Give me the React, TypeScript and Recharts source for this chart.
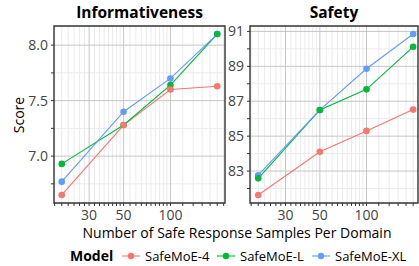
import React from "react";
import {
  LineChart, Line, XAxis, YAxis, CartesianGrid, ReferenceArea,
} from "recharts";

// samples per domain (x, log scale)
const sampleSizes = [20, 50, 100, 200];

const infoSafeMoE4 = [6.65, 7.28, 7.6, 7.63];
const infoSafeMoEL = [6.93, 7.28, 7.64, 8.1];
const infoSafeMoEXL = [6.77, 7.4, 7.7, 8.1];

const safetySafeMoE4 = [81.63, 84.1, 85.3, 86.52];
const safetySafeMoEL = [82.58, 86.5, 87.68, 90.12];
const safetySafeMoEXL = [82.76, 86.5, 88.86, 90.85];

const xMajor = [30, 50, 100];
const xMinor = [18, 20, 22, 24, 26, 28, 32.5, 35, 37.5, 40, 42.5, 45, 47.5, 55, 60, 65, 70, 75, 80, 85, 90, 95, 120, 140, 160, 180, 200, 220];

const infoMajor = [7.0, 7.5, 8.0];
const infoMinor = [6.75, 7.25, 7.75];
const safetyMajor = [83, 85, 87, 89, 91];
const safetyMinor = [82, 84, 86, 88, 90];

const series = [
  { key: "SafeMoE-4", color: "#F8766D" },
  { key: "SafeMoE-L", color: "#00BA38" },
  { key: "SafeMoE-XL", color: "#619CFF" },
];

const FONT = '"Open Sans", "Noto Sans", sans-serif';
const TICK = { fill: "#444", fontSize: 14, fontFamily: FONT };

function buildRows(a: number[], b: number[], c: number[]) {
  return sampleSizes.map((n, i) => ({ n, "SafeMoE-4": a[i], "SafeMoE-L": b[i], "SafeMoE-XL": c[i] }));
}

function expand(vals: number[]): [number, number] {
  const lo = Math.min(...vals);
  const hi = Math.max(...vals);
  const r = hi - lo;
  return [lo - r * 0.05, hi + r * 0.05];
}

function Panel({
  rows, yMajor, yMinor, yDomain, xDomain, width, fmt,
}: {
  rows: any[]; yMajor: number[]; yMinor: number[]; yDomain: [number, number];
  xDomain: [number, number]; width: number; fmt: (v: number) => string;
}) {
  const yTicks = [...yMinor, ...yMajor].sort((a, b) => a - b);
  const xTicks = [...xMinor, ...xMajor].filter((v) => v >= xDomain[0] && v <= xDomain[1]).sort((a, b) => a - b);
  const dotOrder = [...series].reverse();
  return (
    <LineChart width={width} height={226} data={rows} margin={{ top: 26, right: 1, left: 0, bottom: 0 }}>
      <CartesianGrid stroke="#ebebeb" strokeWidth={1} horizontalValues={yMinor} verticalValues={xMinor} />
      <CartesianGrid stroke="#c6c6c6" strokeWidth={1} horizontalValues={yMajor} verticalValues={xMajor} />
      <XAxis
        dataKey="n" type="number" scale="log" domain={xDomain} allowDataOverflow ticks={xTicks}
        tickFormatter={(v) => (xMajor.includes(v) ? String(v) : "")}
        tick={TICK} axisLine={false} tickLine={{ stroke: "#333" }} tickSize={3} tickMargin={4} height={23}
        interval={0}
      />
      <YAxis
        type="number" domain={yDomain} allowDataOverflow ticks={yTicks}
        tickFormatter={(v) => (yMajor.includes(v) ? fmt(v) : "")}
        tick={TICK} axisLine={false} tickLine={{ stroke: "#333" }} tickSize={3} tickMargin={3} width={54}
        interval={0}
      />
      {dotOrder.map((s) => (
        <Line
          key={s.key + "-pts"} dataKey={s.key} stroke="none" isAnimationActive={false} activeDot={false}
          dot={{ r: 3.3, fill: s.color, stroke: s.color, strokeWidth: 0 }}
        />
      ))}
      {series.map((s) => (
        <Line
          key={s.key} dataKey={s.key} stroke={s.color} strokeWidth={1.1} dot={false}
          activeDot={false} isAnimationActive={false}
        />
      ))}
      <ReferenceArea
        x1={xDomain[0]} x2={xDomain[1]} y1={yDomain[0]} y2={yDomain[1]}
        fill="none" stroke="#333" strokeWidth={1.4} ifOverflow="visible"
      />
    </LineChart>
  );
}

function LegendKey({ color }: { color: string }) {
  return (
    <svg width={18} height={10}>
      <line x1={0} y1={5} x2={18} y2={5} stroke={color} strokeWidth={1.1} />
      <circle cx={9} cy={5} r={3.2} fill={color} />
    </svg>
  );
}

export default function App() {
  const infoRows = buildRows(infoSafeMoE4, infoSafeMoEL, infoSafeMoEXL);
  const safetyRows = buildRows(safetySafeMoE4, safetySafeMoEL, safetySafeMoEXL);
  const infoDomain = expand([...infoSafeMoE4, ...infoSafeMoEL, ...infoSafeMoEXL]);
  const safetyDomain = expand([...safetySafeMoE4, ...safetySafeMoEL, ...safetySafeMoEXL]);

  const legendItems = [
    { ...series[0], keyLeft: 122, textLeft: 145 },
    { ...series[1], keyLeft: 217, textLeft: 240 },
    { ...series[2], keyLeft: 312, textLeft: 335 },
  ];

  return (
    <div style={{ position: "absolute", left: 0, top: 0, width: 419, height: 266, background: "#fff", fontFamily: FONT, color: "#000" }}>
      <div style={{ position: "absolute", left: 0, top: 0 }}>
        <Panel rows={infoRows} yMajor={infoMajor} yMinor={infoMinor} yDomain={infoDomain}
          xDomain={[17.83, 224.4]} width={226} fmt={(v) => v.toFixed(1)} />
      </div>
      <div style={{ position: "absolute", left: 196, top: 0 }}>
        <Panel rows={safetyRows} yMajor={safetyMajor} yMinor={safetyMinor} yDomain={safetyDomain}
          xDomain={[17.7, 215]} width={223} fmt={(v) => String(v)} />
      </div>

      <div style={{ position: "absolute", left: 54, width: 171, top: 2, textAlign: "center", fontWeight: 700, fontSize: 15.5, lineHeight: "21px" }}>
        Informativeness
      </div>
      <div style={{ position: "absolute", left: 250, width: 168, top: 2, textAlign: "center", fontWeight: 700, fontSize: 15.5, lineHeight: "21px" }}>
        Safety
      </div>

      <div style={{ position: "absolute", left: 18, top: 115, transform: "translate(-50%, -50%) rotate(-90deg)", fontSize: 14, whiteSpace: "nowrap" }}>
        Score
      </div>
      <div style={{ position: "absolute", left: 0, width: 474, top: 223, textAlign: "center", fontSize: 14, lineHeight: "20px", whiteSpace: "nowrap" }}>
        Number of Safe Response Samples Per Domain
      </div>

      <div style={{ position: "absolute", left: 70, top: 246, fontWeight: 700, fontSize: 14, lineHeight: "20px" }}>Model</div>
      {legendItems.map((it) => (
        <React.Fragment key={it.key}>
          <div style={{ position: "absolute", left: it.keyLeft, top: 251, lineHeight: 0 }}>
            <LegendKey color={it.color} />
          </div>
          <div style={{ position: "absolute", left: it.textLeft, top: 246, fontSize: 13, lineHeight: "20px", whiteSpace: "nowrap" }}>
            {it.key}
          </div>
        </React.Fragment>
      ))}
    </div>
  );
}
